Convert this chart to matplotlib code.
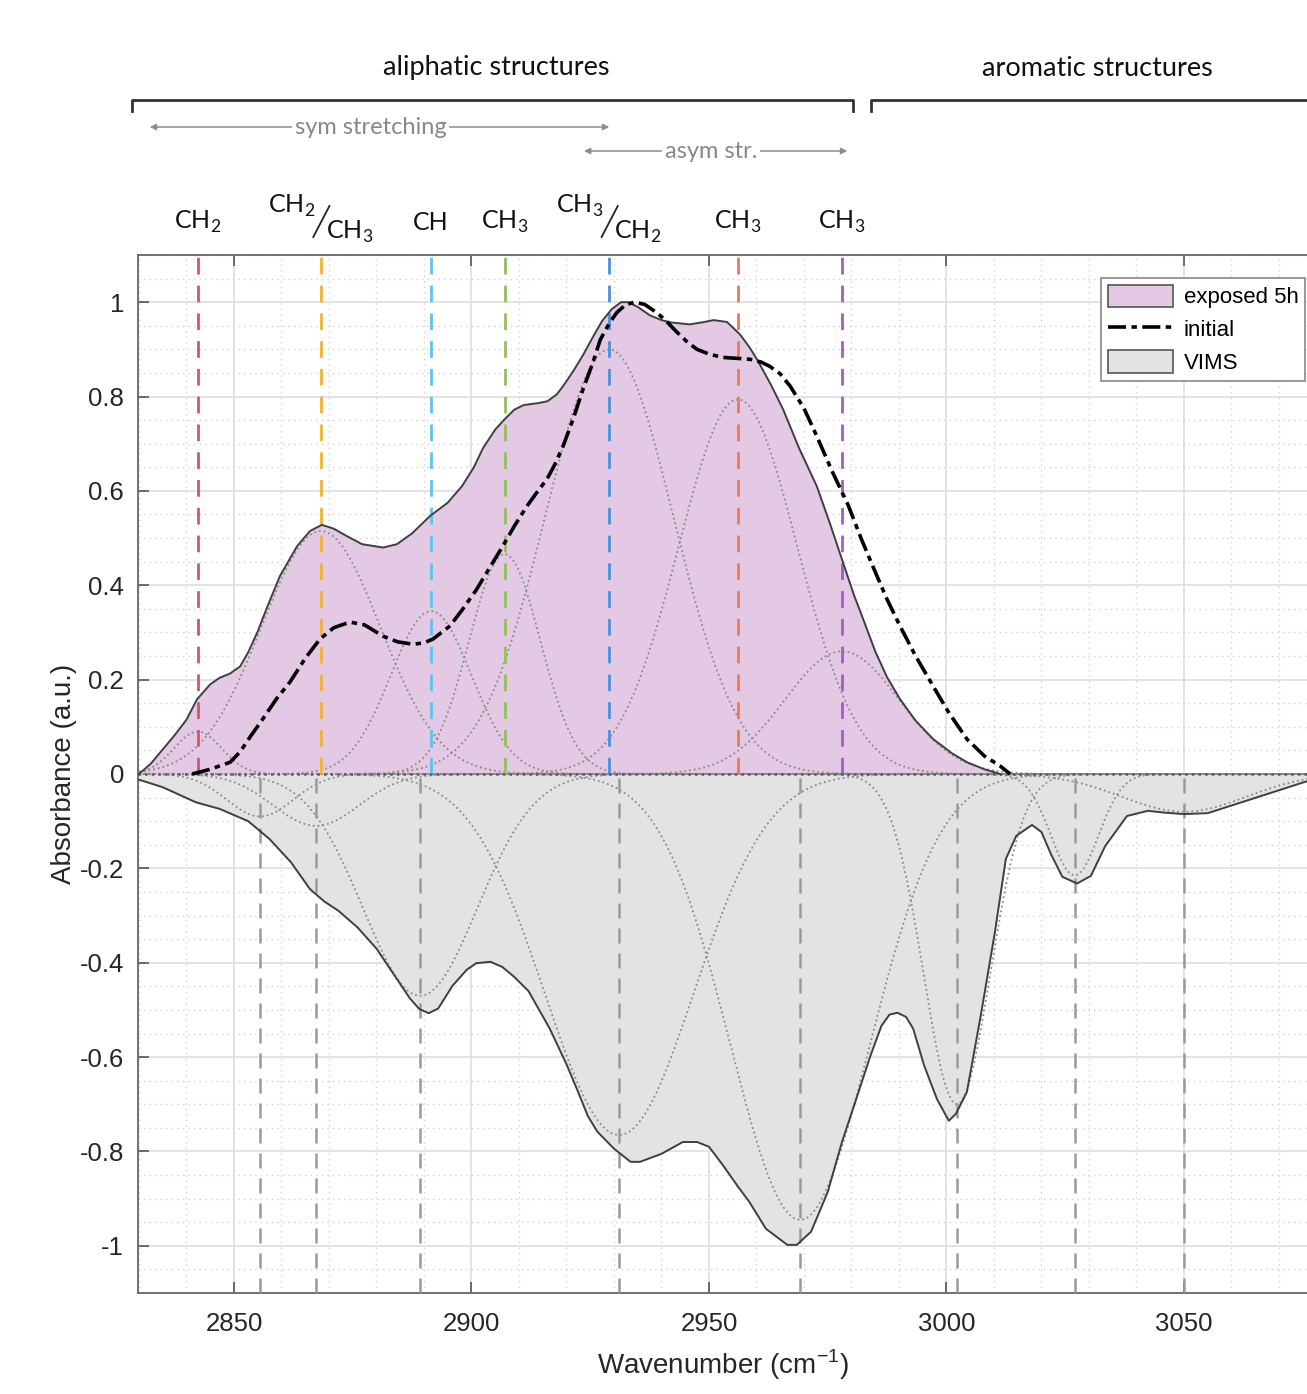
import numpy as np
import matplotlib
matplotlib.use("Agg")
import matplotlib.pyplot as plt
from matplotlib.patches import Patch
from matplotlib.lines import Line2D
from matplotlib.ticker import MultipleLocator, FuncFormatter
from matplotlib.transforms import blended_transform_factory

plt.rcParams["font.family"] = ["Liberation Sans", "DejaVu Sans"]
plt.rcParams["axes.unicode_minus"] = False
plt.rcParams["mathtext.fontset"] = "custom"
plt.rcParams["mathtext.rm"] = "Lato"
plt.rcParams["mathtext.sf"] = "Liberation Sans"

# -----------------------------
# Data
# -----------------------------

# exposed 5h spectrum (envelope)
exp_wn = [2830, 2832.5, 2835, 2837.5, 2840, 2842.2, 2845, 2847, 2849.2, 2851.3, 2853, 2855,
          2857, 2859.7, 2863.3, 2866, 2868.5, 2871, 2873.8, 2877, 2881.4, 2884.3, 2887.5,
          2891.3, 2895, 2898, 2900.5, 2902.4, 2905, 2907, 2909, 2911, 2914, 2916, 2918,
          2919.5, 2921.5, 2923.5, 2925.5, 2927.5, 2929.5, 2931.5, 2933, 2935, 2937.6,
          2940, 2942, 2946, 2949, 2951, 2953.8, 2956.5, 2958.5, 2960.1, 2963, 2965.6,
          2969, 2972.7, 2975.5, 2978.2, 2980.5, 2982.4, 2985, 2987.5, 2990.2, 2993.5,
          2997.2, 3001, 3004.3, 3008, 3011.3]
exp_abs = [0, 0.022, 0.052, 0.082, 0.115, 0.158, 0.19, 0.204, 0.213, 0.228, 0.258, 0.302,
           0.354, 0.42, 0.483, 0.515, 0.528, 0.52, 0.504, 0.487, 0.48, 0.487, 0.51,
           0.547, 0.575, 0.61, 0.65, 0.69, 0.73, 0.752, 0.772, 0.782, 0.786, 0.79, 0.805,
           0.825, 0.855, 0.888, 0.925, 0.96, 0.985, 1.0, 1.0, 0.99, 0.972,
           0.962, 0.957, 0.953, 0.958, 0.962, 0.958, 0.932, 0.905, 0.879, 0.826, 0.773,
           0.69, 0.61, 0.53, 0.449, 0.38, 0.33, 0.26, 0.205, 0.159, 0.113,
           0.074, 0.045, 0.025, 0.01, 0.0]

# initial spectrum
ini_wn = [2841.2, 2845, 2849.2, 2851.3, 2853.5, 2856.1, 2859, 2861.8, 2865, 2868.1,
          2871, 2874.4, 2877.5, 2881.4, 2884.5, 2887.7, 2890, 2891.9, 2895.5, 2898.2,
          2901, 2904, 2906.6, 2909, 2911.7, 2914, 2915.9, 2917.5, 2919.3, 2921.5,
          2923.5, 2925.5, 2927.1, 2929, 2930.6, 2932.5, 2934.4, 2936.5, 2939, 2941,
          2943.3, 2945.5, 2947.5, 2950, 2952.9, 2958.6, 2961, 2962.8, 2965, 2967.1,
          2970, 2972.7, 2976, 2979.3, 2982, 2984.5, 2987.5, 2990.2, 2993.5, 2997.2,
          3000.5, 3004.3, 3008, 3011.3, 3013.4]
ini_abs = [0, 0.01, 0.025, 0.047, 0.08, 0.117, 0.16, 0.195, 0.245, 0.286,
           0.31, 0.322, 0.316, 0.292, 0.28, 0.275, 0.278, 0.286, 0.314, 0.35,
           0.39, 0.44, 0.483, 0.525, 0.568, 0.6, 0.625, 0.655, 0.695, 0.755,
           0.816, 0.87, 0.92, 0.955, 0.978, 0.995, 1.0, 0.995, 0.978, 0.96,
           0.936, 0.915, 0.9, 0.89, 0.883, 0.879, 0.873, 0.864, 0.848, 0.822,
           0.775, 0.716, 0.64, 0.57, 0.5, 0.44, 0.37, 0.314, 0.25, 0.186,
           0.13, 0.074, 0.038, 0.017, 0.0]

# VIMS spectrum (plotted negative)
vims_wn = [2830, 2835, 2842, 2847, 2853, 2857.5, 2862, 2866, 2869, 2872, 2876, 2880,
           2883, 2885, 2887, 2889, 2891, 2893, 2896, 2899, 2901, 2904, 2906.5, 2909,
           2912, 2916.5, 2920, 2922.5, 2924.5, 2926.5, 2930, 2933.5, 2935.5, 2940,
           2944.5, 2947.5, 2950, 2953, 2956, 2958.5, 2962, 2966.5, 2968.5, 2971.5,
           2975, 2978, 2981, 2984, 2986.3, 2988, 2989.7, 2991.5, 2993, 2995.3, 2998,
           3000.5, 3002, 3004.3, 3007.2, 3010.2, 3012.5, 3014.7, 3018, 3020, 3022,
           3024.4, 3027.5, 3030.4, 3033.4, 3038, 3042.4, 3046, 3050, 3055, 3076]
vims_abs = [-0.012, -0.028, -0.06, -0.074, -0.10, -0.138, -0.187, -0.244, -0.27, -0.29,
            -0.325, -0.37, -0.415, -0.445, -0.475, -0.498, -0.507, -0.497, -0.449,
            -0.415, -0.401, -0.398, -0.409, -0.43, -0.46, -0.54, -0.615, -0.675,
            -0.725, -0.758, -0.794, -0.822, -0.822, -0.805, -0.78, -0.78, -0.79,
            -0.83, -0.873, -0.907, -0.964, -0.998, -0.998, -0.97, -0.886, -0.78,
            -0.689, -0.597, -0.534, -0.51, -0.506, -0.515, -0.54, -0.618, -0.689,
            -0.735, -0.72, -0.674, -0.513, -0.335, -0.18, -0.131, -0.108, -0.123,
            -0.17, -0.218, -0.232, -0.216, -0.153, -0.089, -0.078, -0.082, -0.085,
            -0.083, -0.015]

# fitted bands of the exposed spectrum (centre, height, width)
exp_band_pos = [2842.4, 2868.3, 2891.5, 2907.0, 2929.0, 2956.1, 2978.0]
exp_band_amp = [0.09, 0.515, 0.345, 0.466, 0.90, 0.794, 0.26]
exp_band_sig = [5.0, 12.5, 8.5, 7.5, 13.5, 12.5, 12.0]
exp_band_labels = ["CH2", "CH2/CH3", "CH", "CH3", "CH3/CH2", "CH3", "CH3"]
exp_band_colors = ["#d2566a", "#f2b233", "#5ec4ee", "#93c15a", "#4a90dc", "#ec7a55", "#a55cc4"]

# fitted bands of VIMS (centre, depth, width)
vims_band_pos = [2855.5, 2867.3, 2889.2, 2931.1, 2969.2, 3002.2, 3027.0, 3050.0]
vims_band_amp = [-0.09, -0.11, -0.47, -0.765, -0.945, -0.70, -0.215, -0.08]
vims_band_sig = [7.0, 9.0, 12.0, 15.7, 14.7, 7.0, 5.0, 13.0]

# -----------------------------
# Figure
# -----------------------------

fig = plt.figure(figsize=(13.07, 13.94), dpi=100)
ax = fig.add_axes([138 / 1307, 1 - 1293 / 1394, (1307 - 138) / 1307, (1293 - 255) / 1394])

purple = "#e3c9e4"
grey = "#e3e3e3"
edge = "#3f3f3f"

ax.fill_between(vims_wn, vims_abs, 0, color=grey, lw=0, zorder=2)
ax.fill_between(exp_wn, exp_abs, 0, color=purple, lw=0, zorder=2)

# band components
wn = np.linspace(2828, 3078, 600)
for c, a, s in zip(exp_band_pos, exp_band_amp, exp_band_sig):
    ax.plot(wn, a * np.exp(-(wn - c) ** 2 / (2 * s ** 2)), ls=":", color="#8a8a8a", lw=1.3, zorder=3)
for c, a, s in zip(vims_band_pos, vims_band_amp, vims_band_sig):
    ax.plot(wn, a * np.exp(-(wn - c) ** 2 / (2 * s ** 2)), ls=":", color="#8a8a8a", lw=1.3, zorder=3)

# band position markers
for c, col in zip(exp_band_pos, exp_band_colors):
    ax.plot([c, c], [0, 1.1], color=col, lw=2, ls=(0, (6, 4)), zorder=4)
for c in vims_band_pos:
    ax.plot([c, c], [-1.1, 0], color="#9a9a9a", lw=1.8, ls=(0, (6, 4)), zorder=4)

ax.axhline(0, color="#5a5a5a", ls=":", lw=1.8, zorder=4)

ax.plot(exp_wn, exp_abs, color=edge, lw=1.4, zorder=5)
ax.plot(vims_wn, vims_abs, color=edge, lw=1.4, zorder=5)
ax.plot(ini_wn, ini_abs, color="black", lw=2.6, ls=(0, (5, 1.5, 1.5, 1.5)), zorder=6)

# axes styling
ax.set_xlim(2829.8, 3075.9)
ax.set_ylim(-1.1, 1.1)
ax.xaxis.set_major_locator(MultipleLocator(50))
ax.xaxis.set_minor_locator(MultipleLocator(10))
ax.yaxis.set_major_locator(MultipleLocator(0.2))
ax.yaxis.set_minor_locator(MultipleLocator(0.05))
ax.yaxis.set_major_formatter(FuncFormatter(lambda v, _: "0" if abs(v) < 1e-9 else "%g" % round(v, 2)))
ax.set_axisbelow(True)
ax.grid(which="major", color="#dedede", lw=1.2)
ax.grid(which="minor", color="#d2d2d2", ls=(0, (1, 3)), lw=1.0)
ax.tick_params(which="major", direction="in", length=8, width=1.2, top=True, color="#555",
               labelsize=18.5, labelcolor="#262626")
ax.tick_params(axis="x", which="major", pad=14)
ax.tick_params(axis="y", which="major", pad=10)
ax.tick_params(which="minor", length=0)
for sp in ["left", "bottom", "top"]:
    ax.spines[sp].set_color("#666")
    ax.spines[sp].set_linewidth(1.3)
ax.spines["right"].set_visible(False)

ax.set_xlabel(r"Wavenumber (cm$^{\mathsf{-1}}$)", fontsize=20, color="#262626", labelpad=8)
ax.set_ylabel("Absorbance (a.u.)", fontsize=20, color="#262626", labelpad=2)

handles = [Patch(facecolor=purple, edgecolor="#555", lw=1.2),
           Line2D([], [], color="black", lw=2.6, ls=(0, (5, 1.5, 1.5, 1.5))),
           Patch(facecolor=grey, edgecolor="#555", lw=1.2)]
leg = ax.legend(handles, ["exposed 5h", "initial", "VIMS"], loc="upper right",
                bbox_to_anchor=(0.9985, 0.978), fontsize=16, fancybox=False,
                framealpha=1, edgecolor="#888", handlelength=2.9, handleheight=1.2,
                borderpad=0.3, labelspacing=0.4, handletextpad=0.5, borderaxespad=0)
leg.get_frame().set_linewidth(1.2)
leg.set_zorder(10)

# -----------------------------
# Annotations above the plot
# -----------------------------

tr = blended_transform_factory(ax.transData, fig.transFigure)


def fy(px):
    return 1 - px / 1394


lato = ["Lato", "DejaVu Sans"]

ax.text(2905.2, fy(68), "aliphatic structures", transform=tr, ha="center", va="center",
        fontsize=19.5, family=lato, color="#111")
ax.text(3031.7, fy(68), "aromatic structures", transform=tr, ha="center", va="center",
        fontsize=19.5, family=lato, color="#111")
ax.add_line(Line2D([2828.5, 2828.5, 2980.3, 2980.3], [fy(111), fy(100), fy(100), fy(111)],
                   transform=tr, color="#333", lw=2, clip_on=False))
ax.add_line(Line2D([2984.1, 2984.1, 3080], [fy(111), fy(100), fy(100)],
                   transform=tr, color="#333", lw=2, clip_on=False))

arrow_kw = dict(arrowstyle="<|-|>", color="#8c8c8c", lw=1.1, mutation_scale=9)
ax.annotate("", xy=(2831.7, fy(127)), xytext=(2929.6, fy(127)), xycoords=tr,
            textcoords=tr, arrowprops=arrow_kw, annotation_clip=False)
ax.text(2878.8, fy(127), "sym stretching", transform=tr, ha="center", va="center",
        fontsize=17, family=lato, color="#888",
        bbox=dict(facecolor="white", edgecolor="none", pad=2))
ax.annotate("", xy=(2923.1, fy(151)), xytext=(2979.7, fy(151)), xycoords=tr,
            textcoords=tr, arrowprops=arrow_kw, annotation_clip=False)
ax.text(2950.4, fy(151), "asym str.", transform=tr, ha="center", va="center",
        fontsize=17, family=lato, color="#888",
        bbox=dict(facecolor="white", edgecolor="none", pad=2))


def chem(s):
    out = ""
    for ch in s:
        out += r"$_{\mathrm{%s}}$" % ch if ch.isdigit() else ch
    return out


for c, lab in zip(exp_band_pos, exp_band_labels):
    if "/" in lab:
        top, bottom = lab.split("/")
        ax.text(c - 1.2, fy(206), chem(top), transform=tr, ha="right", va="center",
                fontsize=18, family=lato, color="#111")
        ax.text(c + 1.0, fy(232), chem(bottom), transform=tr, ha="left", va="center",
                fontsize=18, family=lato, color="#111")
        ax.add_line(Line2D([c - 1.6, c + 1.8], [fy(237), fy(206)], transform=tr,
                           color="#222", lw=1.3, clip_on=False))
    else:
        ax.text(c, fy(222), chem(lab), transform=tr, ha="center", va="center",
                fontsize=18, family=lato, color="#111")

plt.savefig("out.png", dpi=100)
